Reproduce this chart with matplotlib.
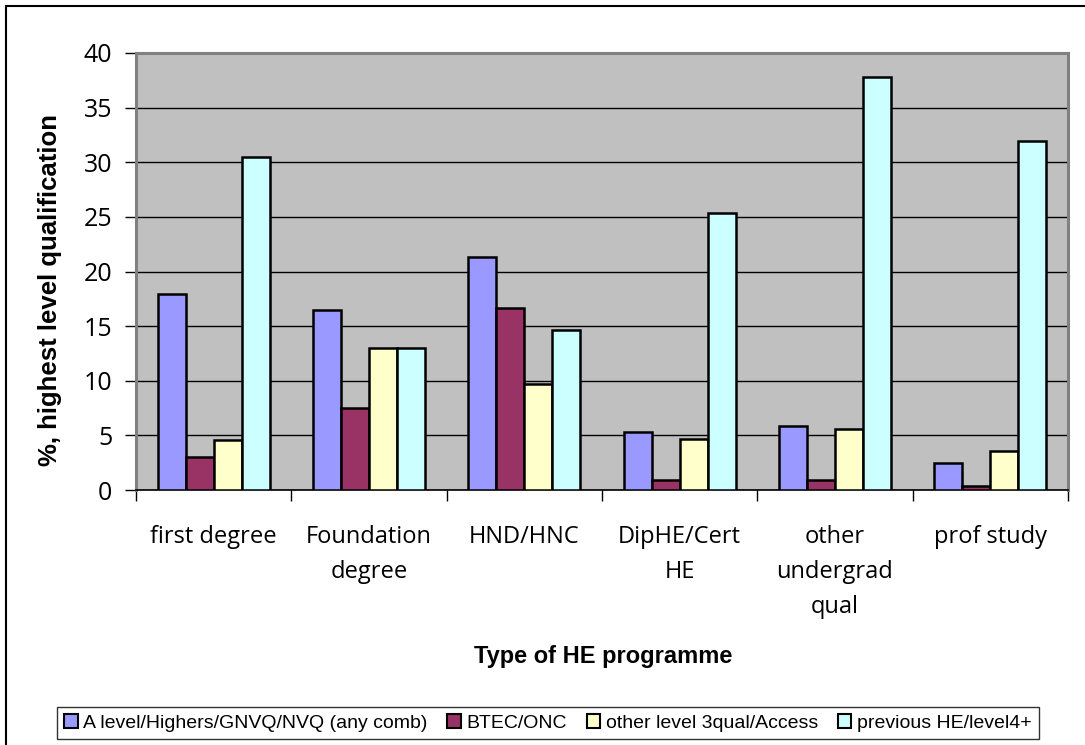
import matplotlib
matplotlib.use("Agg")
import matplotlib.pyplot as plt
import numpy as np
from matplotlib.patches import Rectangle

categories = ["first degree", "Foundation\ndegree", "HND/HNC", "DipHE/Cert\nHE",
              "other\nundergrad\nqual", "prof study"]
series_names = ["A level/Highers/GNVQ/NVQ (any comb)", "BTEC/ONC",
                "other level 3qual/Access", "previous HE/level4+"]
a_level = [17.9, 16.5, 21.3, 5.3, 5.9, 2.5]
btec = [3.0, 7.5, 16.7, 0.9, 0.9, 0.4]
other_l3 = [4.6, 13.0, 9.7, 4.7, 5.6, 3.6]
prev_he = [30.5, 13.0, 14.6, 25.4, 37.8, 31.9]
colors = ["#9999FF", "#993366", "#FFFFCC", "#CCFFFF"]
yticks = [0, 5, 10, 15, 20, 25, 30, 35, 40]

fig = plt.figure(figsize=(10.85, 7.45), dpi=100)
ax = fig.add_axes([136/1085, 1-490/745, (1068-136)/1085, (490-53)/745])
ax.set_facecolor("#C0C0C0")

x = np.arange(len(categories))
w = 0.18
data = [a_level, btec, other_l3, prev_he]
handles = []
for i, (vals, c, name) in enumerate(zip(data, colors, series_names)):
    b = ax.bar(x + (i - 1.5) * w, vals, width=w, color=c, edgecolor="black",
               linewidth=1.8, label=name, zorder=3)
    handles.append(b)

ax.set_xlim(-0.5, len(categories) - 0.5)
ax.set_ylim(0, 40)
ax.set_yticks(yticks)
ax.yaxis.grid(True, color="black", linewidth=1.0, zorder=0)
ax.set_axisbelow(True)

ax.set_xticks(np.arange(-0.5, len(categories), 1.0))
ax.set_xticklabels([])
ax.set_xticks(x, minor=True)
ax.set_xticklabels(categories, minor=True, fontsize=17, family=["Open Sans", "DejaVu Sans"],
                   linespacing=1.62, va="top")
ax.tick_params(axis="x", which="minor", length=0, pad=25)
ax.tick_params(axis="x", which="major", length=8, width=1, direction="out", color="black")
ax.tick_params(axis="y", length=8, width=1, direction="out", pad=9, labelsize=18)
for lab in ax.get_yticklabels():
    lab.set_family(["Open Sans", "DejaVu Sans"])

for s in ["top", "right", "left"]:
    ax.spines[s].set_color("#808080")
    ax.spines[s].set_linewidth(2.2)
ax.spines["bottom"].set_color("black")
ax.spines["bottom"].set_linewidth(1.2)

ax.set_ylabel("%, highest level qualification", fontsize=18.5, fontweight="bold",
              family=["Liberation Sans", "DejaVu Sans"], va="center")
ax.yaxis.set_label_coords((50-136)/932, (490-290)/437)
fig.text(603/1085, 1-657/745, "Type of HE programme", fontsize=17, fontweight="bold",
         family=["Liberation Sans", "DejaVu Sans"],
         ha="center", va="center")

# outer chart frame
fig.patches.append(Rectangle((6/1085, -0.05), 1.1, 1-6/745+0.05, transform=fig.transFigure,
                             fill=False, edgecolor="black", linewidth=1.5, zorder=0))

leg = fig.legend(handles=handles, loc="center", bbox_to_anchor=(548/1085, 1-723/745),
                 ncol=4, frameon=True, fancybox=False, edgecolor="black",
                 prop={"family": ["Liberation Sans", "DejaVu Sans"], "size": 14},
                 handlelength=0.7, handleheight=0.7, handletextpad=0.3, columnspacing=1.0,
                 borderpad=0.35, borderaxespad=0)
leg.get_frame().set_linewidth(1.0)
for h in leg.legend_handles:
    h.set_linewidth(1.5)

fig.savefig("out.png", dpi=100, facecolor="white")
